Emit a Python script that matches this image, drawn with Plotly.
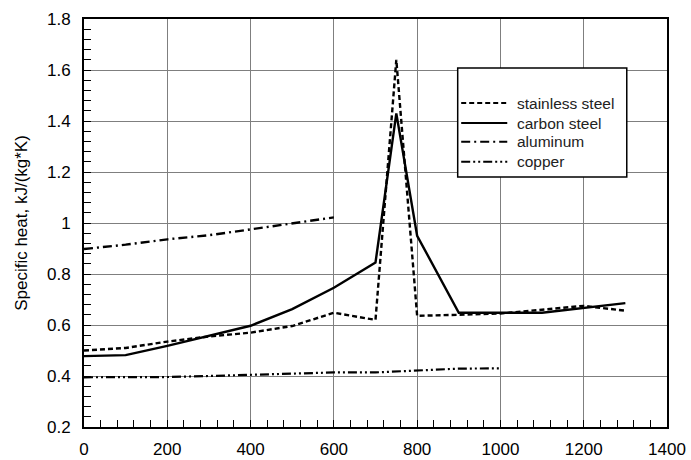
import plotly.graph_objects as go

# Specific heat of metals vs temperature, kJ/(kg*K)
stainless_t = [0, 100, 200, 300, 400, 500, 600, 700, 750, 800, 900, 1000, 1100, 1200, 1300]
stainless_cp = [0.50, 0.51, 0.535, 0.555, 0.57, 0.596, 0.648, 0.62, 1.64, 0.636, 0.64, 0.645, 0.66, 0.675, 0.656]

carbon_t = [0, 100, 200, 300, 400, 500, 600, 700, 750, 800, 900, 1100, 1300]
carbon_cp = [0.478, 0.482, 0.518, 0.556, 0.597, 0.662, 0.746, 0.845, 1.43, 0.95, 0.648, 0.648, 0.686]

aluminum_t = [0, 100, 200, 300, 400, 500, 600]
aluminum_cp = [0.898, 0.915, 0.936, 0.952, 0.975, 0.998, 1.022]

copper_t = [0, 100, 200, 300, 400, 500, 600, 700, 800, 900, 1000]
copper_cp = [0.395, 0.396, 0.396, 0.400, 0.405, 0.410, 0.414, 0.414, 0.421, 0.429, 0.430]

series = [
    ("stainless steel", stainless_t, stainless_cp, dict(width=2.4, dash="5px,3px")),
    ("carbon steel", carbon_t, carbon_cp, dict(width=2.4)),
    ("aluminum", aluminum_t, aluminum_cp, dict(width=2.4, dash="9px,4px,2px,4px")),
    ("copper", copper_t, copper_cp, dict(width=2.2, dash="9px,3px,2px,3px,2px,3px")),
]

x_ticks = list(range(0, 1401, 200))
y_ticks = [0.2, 0.4, 0.6, 0.8, 1.0, 1.2, 1.4, 1.6, 1.8]
y_tick_text = ["0.2", "0.4", "0.6", "0.8", "1", "1.2", "1.4", "1.6", "1.8"]

FONT = "Liberation Sans, Arial, sans-serif"

fig = go.Figure()
for name, t, cp, line in series:
    fig.add_trace(go.Scatter(x=t, y=cp, mode="lines", name=name, showlegend=False,
                             line=dict(color="black", **line)))

# Boxed key in the upper right of the plot area
key_x0, key_x1, key_y0, key_y1 = 0.641, 0.931, 0.613, 0.880
fig.add_shape(type="rect", xref="paper", yref="paper",
              x0=key_x0, x1=key_x1, y0=key_y0, y1=key_y1,
              line=dict(color="black", width=1.5), fillcolor="white", layer="above")
row_y = [0.794, 0.745, 0.699, 0.650]
for (name, _, _, line), yy in zip(series, row_y):
    sample = dict(color="black", width=min(line["width"], 2.0))
    if "dash" in line:
        sample["dash"] = line["dash"]
    fig.add_shape(type="line", xref="paper", yref="paper",
                  x0=0.647, x1=0.726, y0=yy, y1=yy, line=sample, layer="above")
    fig.add_annotation(xref="paper", yref="paper", x=0.739, y=yy,
                       xanchor="left", yanchor="middle", showarrow=False,
                       text=name, font=dict(family=FONT, size=15.5, color="#222"))

axis_common = dict(
    showline=True, linecolor="black", linewidth=2, mirror=True,
    showgrid=True, gridcolor="#7f7f7f", gridwidth=1.3,
    ticks="inside", ticklen=7, tickcolor="black", tickwidth=1,
    zeroline=False, automargin=False,
    tickfont=dict(family=FONT, size=17, color="black"),
)

fig.update_xaxes(range=[0, 1400], tickvals=x_ticks, ticklabelstandoff=6,
                 minor=dict(dtick=40, ticks="inside", ticklen=7, tickcolor="black",
                            tickwidth=1, showgrid=False),
                 **axis_common)
fig.update_yaxes(range=[0.2, 1.8], tickvals=y_ticks, ticktext=y_tick_text,
                 ticklabelstandoff=8,
                 minor=dict(dtick=0.04, tick0=0.2, ticks="inside", ticklen=7,
                            tickcolor="black", tickwidth=1, showgrid=False),
                 title=dict(text="Specific heat, kJ/(kg*K)", standoff=15,
                            font=dict(family=FONT, size=17, color="black")),
                 **axis_common)

fig.update_layout(
    width=691, height=460,
    margin=dict(l=84, r=24, t=19, b=33),
    paper_bgcolor="white", plot_bgcolor="white",
    font=dict(family=FONT, color="black"),
    showlegend=False,
)

fig.write_html("out.html")
